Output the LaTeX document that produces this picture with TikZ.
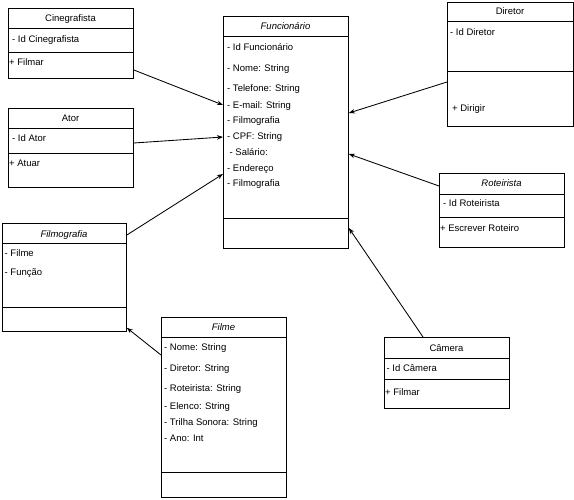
\documentclass[tikz,border=0pt]{standalone}
\usepackage{fontspec}
\setmainfont{Liberation Sans}
\usetikzlibrary{arrows.meta,calc}
\begin{document}
\begin{tikzpicture}[x=1pt,y=-1pt,
  cls/.style={draw=black, line width=0.85pt, fill=white, rectangle, inner sep=0pt, anchor=north west},
  sepline/.style={line width=0.85pt},
  attr/.style={anchor=base west, inner sep=0pt, font=\fontsize{9.5}{11}\selectfont},
  ttl/.style={anchor=base, inner sep=0pt, font=\fontsize{9.5}{11}\selectfont},
  ittl/.style={ttl, font=\fontsize{9.5}{11}\selectfont\itshape},
  arr/.style={line width=0.85pt, -{Stealth[length=6pt,width=4.5pt]}}
]
\useasboundingbox (0,0) rectangle (574,500);
\fill[white] (0,0) rectangle (574,500);

% Cinegrafista
\node[cls, minimum width=125pt, minimum height=70pt] (cine) at (8,8) {};
\draw[sepline] (8,28) -- (133,28);
\draw[sepline] (8,52) -- (133,52);
\node[ttl] (cinet) at (70.5,21.5) {Cinegrafista};
\node[attr] (cinea) at (12,42.5) {- Id Cinegrafista};
\node[attr] (cinem) at (9,65.5) {+ Filmar};

% Ator
\node[cls, minimum width=125pt, minimum height=79pt] (ator) at (8,108) {};
\draw[sepline] (8,128) -- (133,128);
\draw[sepline] (8,153) -- (133,153);
\node[ttl] (atort) at (70.5,121.5) {Ator};
\node[attr] (atora) at (12,141.5) {- Id Ator};
\node[attr] (atorm) at (9,166.5) {+ Atuar};

% Funcionario
\node[cls, minimum width=125pt, minimum height=232pt] (func) at (223,16) {};
\draw[sepline] (223,36) -- (348,36);
\draw[sepline] (223,218) -- (348,218);
\node[ittl] (funct) at (285.5,30) {Funcionário};
\node[attr] (funca1) at (227,50.5) {- Id Funcionário};
\node[attr] (funca2) at (227,71.5) {- Nome: String};
\node[attr] (funca3) at (227,91.5) {- Telefone: String};
\node[attr] (funca4) at (227,108.5) {- E-mail: String};
\node[attr] (funca5) at (227,123.5) {- Filmografia};
\node[attr] (funca6) at (227,139.5) {- CPF: String};
\node[attr] (funca7) at (229.5,155.5) {- Salário:};
\node[attr] (funca8) at (227,171.5) {- Endereço};
\node[attr] (funca9) at (227,186.5) {- Filmografia};

% Diretor
\node[cls, minimum width=126pt, minimum height=124pt] (dir) at (447,2) {};
\draw[sepline] (447,21) -- (573,21);
\draw[sepline] (447,71) -- (573,71);
\node[ttl] (dirt) at (510,14.5) {Diretor};
\node[attr] (dira) at (450,35.5) {- Id Diretor};
\node[attr] (dirm) at (452,111.5) {+ Dirigir};

% Roteirista
\node[cls, minimum width=125pt, minimum height=74pt] (rot) at (439,173) {};
\draw[sepline] (439,194) -- (564,194);
\draw[sepline] (439,217) -- (564,217);
\node[ittl] (rott) at (501.5,186.5) {Roteirista};
\node[attr] (rota) at (443,206.5) {- Id Roteirista};
\node[attr] (rotm) at (440,231.5) {+ Escrever Roteiro};

% Filmografia
\node[cls, minimum width=124pt, minimum height=108pt] (filmog) at (2,223) {};
\draw[sepline] (2,243) -- (126,243);
\draw[sepline] (2,307) -- (126,307);
\node[ittl] (filmogt) at (64,237.5) {Filmografia};
\node[attr] (filmoga1) at (4.5,256.5) {- Filme};
\node[attr] (filmoga2) at (4.5,275.5) {- Função};

% Filme
\node[cls, minimum width=125pt, minimum height=180pt] (filme) at (161,317) {};
\draw[sepline] (161,337) -- (286,337);
\draw[sepline] (161,472) -- (286,472);
\node[ittl] (filmet) at (223.5,330.5) {Filme};
\node[attr] (filmea1) at (164,350.5) {- Nome: String};
\node[attr] (filmea2) at (164,371.5) {- Diretor: String};
\node[attr] (filmea3) at (164,391.5) {- Roteirista: String};
\node[attr] (filmea4) at (164,409.5) {- Elenco: String};
\node[attr] (filmea5) at (164,425.5) {- Trilha Sonora: String};
\node[attr] (filmea6) at (164,441.5) {- Ano: Int};

% Camera
\node[cls, minimum width=125pt, minimum height=71pt] (cam) at (384,337) {};
\draw[sepline] (384,358) -- (509,358);
\draw[sepline] (384,379) -- (509,379);
\node[ttl] (camt) at (446.5,351.5) {Câmera};
\node[attr] (cama) at (386.5,371.5) {- Id Câmera};
\node[attr] (camm) at (385,395.5) {+ Filmar};

% connectors
\coordinate (e1) at ($(func.north west)+(0,89)$);
\coordinate (e2) at ($(func.north west)+(0,121)$);
\coordinate (e3) at ($(func.north west)+(0,158)$);
\coordinate (e4) at ($(func.north east)+(0,97)$);
\coordinate (e5) at ($(func.north east)+(0,138)$);
\coordinate (e6) at ($(func.north east)+(0,212)$);
\coordinate (e7) at ($(filmog.south east)+(0,-4)$);
\coordinate (s1) at ($(cine.north east)+(0,62)$);
\coordinate (s2) at ($(ator.north east)+(0,35)$);
\coordinate (s3) at ($(filmog.north east)+(0,12)$);
\coordinate (s4) at ($(dir.north west)+(0,80)$);
\coordinate (s5) at ($(rot.north west)+(0,13)$);
\coordinate (s6) at ($(cam.north west)+(39,0)$);
\coordinate (s7) at ($(filme.north west)+(0,38)$);
\draw[arr] (s1) -- (e1);
\draw[arr] (s2) -- (e2);
\draw[arr] (s3) -- (e3);
\draw[arr] (s4) -- (e4);
\draw[arr] (s5) -- (e5);
\draw[arr] (s6) -- (e6);
\draw[arr] (s7) -- (e7);
\end{tikzpicture}
\end{document}
